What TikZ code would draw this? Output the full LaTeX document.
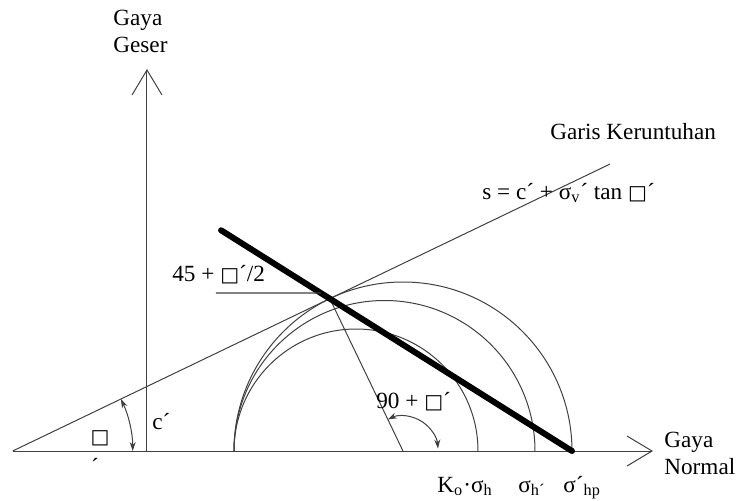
\documentclass[tikz,border=0pt]{standalone}
\usepackage{fontspec}
\setmainfont{Liberation Serif}
\newfontfamily\boxfont{DejaVu Sans}
\usetikzlibrary{arrows.meta, calc}
\newcommand{\nofi}{{\boxfont\fontsize{10}{12}\selectfont\char"25A1}}
\tikzset{
    thinline/.style={line width=0.5pt, black!75},
    axisline/.style={thinline, -{Straight Barb[length=12.5pt, width=15pt]}},
    thickline/.style={line width=3pt, black, line cap=round},
    anglearc/.style={thinline, {Stealth[length=4.5pt, width=3pt]}-{Stealth[length=4.5pt, width=3pt]}},
    lbl/.style={inner sep=0pt, text=black, font=\fontsize{11.6}{13.5}\selectfont},
}
\begin{document}
\begin{tikzpicture}[x=0.5pt, y=0.5pt]
    \clip (0,0) rectangle (736,500);

    % Titik-titik utama
    \coordinate (O) at (12.7,49);
    \coordinate (A) at (234,49);
    \coordinate (C3) at (403,49);
    \coordinate (P) at (572,49);
    \coordinate (Xend) at (653,49);
    \coordinate (Yaxis) at (147,49);
    \coordinate (Yend) at (147,431);
    \coordinate (T) at ($(C3)+(115.66:169)$);
    \coordinate (F) at ($(O)+(25.66:662.6)$);

    % Sumbu
    \draw[axisline] (O) -- (Xend);
    \draw[axisline] (Yaxis) -- (Yend);

    % Garis keruntuhan
    \draw[thinline] (O) -- (F);

    % Lingkaran Mohr
    \draw[thinline] (A) arc (180:0:122);
    \draw[thinline] (A) arc (180:0:150.5);
    \draw[thinline] (A) arc (180:0:169);
    \draw[thinline] (C3) -- (T);

    % Bidang runtuh
    \draw[thickline] ($(P)!1.449!(T)$) -- (P);
    \coordinate (H1) at (216,207);
    \coordinate (H2) at ($(P)!1.0374!(T)$);
    \draw[thinline, line width=0.7pt] (H1) -- (H2);

    % Sudut
    \draw[anglearc] ($(O)+(25.66:120)$) arc (25.66:0:120);
    \draw[anglearc] ($(C3)+(115.66:35)$) arc (115.66:4:35);

    % Label
    \node[lbl, anchor=west, align=left] (ygeser) at (113,468.5) {Gaya\\Geser};
    \node[lbl, anchor=west] (garis) at (550,368) {Garis Keruntuhan};
    \node[lbl, anchor=west] (rumus) at (482,307) {s = c´ + σ\textsubscript{v}´ tan \nofi´};
    \node[lbl, anchor=west] (sudut1) at (172,225) {45 + \nofi´/2};
    \node[lbl, anchor=west] (sudut2) at (376,98) {90 + \nofi´};
    \node[lbl, anchor=west] (kohesi) at (152,78) {c´};
    \node[lbl] (fi) at (100,62) {\nofi};
    \node[lbl] (aksen) at (95,34) {´};
    \node[lbl, anchor=west, align=left] (xnormal) at (664,46.5) {Gaya\\Normal};
    \node[lbl, anchor=base west] (ko) at (437,8) {K\textsubscript{o}·σ\textsubscript{h}};
    \node[lbl, anchor=base west] (sh) at (518,8) {σ\textsubscript{h´}};
    \node[lbl, anchor=base west] (shp) at (563,8) {σ´\textsubscript{hp}};
\end{tikzpicture}
\end{document}
